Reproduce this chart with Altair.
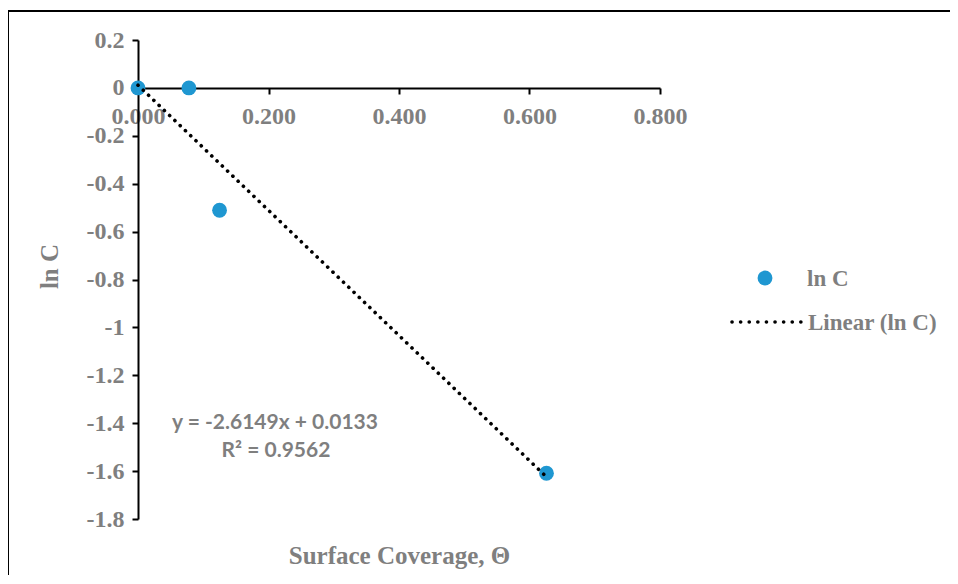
import altair as alt
import pandas as pd

# ---- data ----
theta = [0.0, 0.078, 0.125, 0.626]
ln_c = [0.0, 0.0, -0.511, -1.609]
x_ticks = [0.0, 0.2, 0.4, 0.6, 0.8]
y_ticks = [0.2, 0.0, -0.2, -0.4, -0.6, -0.8, -1.0, -1.2, -1.4, -1.6, -1.8]
legend_labels = ["ln C", "Linear (ln C)"]
equation_lines = ["y = -2.6149x + 0.0133", "R² = 0.9562"]

df = pd.DataFrame({"theta": theta, "lnC": ln_c})

GREY = "#7f7f7f"
BLUE = "#1f97d1"
SERIF = "Liberation Serif"
SANS = "Lato"
DOT = [0.1, 7.2]

W, H = 522, 479

x_scale = alt.Scale(domain=[0, 0.8], nice=False, zero=False)
y_scale = alt.Scale(domain=[-1.8, 0.2], nice=False, zero=False)

x_axis = alt.Axis(
    values=x_ticks, format=".3f", offset=-431, grid=False,
    domainColor="black", domainWidth=2, tickColor="black", tickWidth=2, tickSize=6,
    labelFont=SERIF, labelFontWeight="bold", labelFontSize=24, labelColor=GREY,
    labelPadding=10, labelFlush=False, labelOverlap=False,
    title="Surface Coverage, Θ", titleFont=SERIF, titleFontSize=25,
    titleFontWeight="bold", titleColor=GREY, titleY=467, titleBaseline="middle",
)
y_axis = alt.Axis(
    values=y_ticks, grid=False,
    labelExpr="datum.value == 0 ? '0' : (datum.value < 0 ? '-' : '') + format(abs(datum.value), '.1~f')",
    domainColor="black", domainWidth=2, tickColor="black", tickWidth=2, tickSize=6,
    labelFont=SERIF, labelFontWeight="bold", labelFontSize=24, labelColor=GREY,
    labelPadding=8, labelFlush=False, labelOverlap=False,
    title="ln C", titleFont=SERIF, titleFontSize=25, titleFontWeight="bold",
    titleColor=GREY, titleX=-89, titleY=226, titleBaseline="middle", titleAlign="center",
    titleAngle=270,
)

X = alt.X("theta:Q", scale=x_scale, axis=x_axis)
Y = alt.Y("lnC:Q", scale=y_scale, axis=y_axis)

points = alt.Chart(df).mark_circle(size=220, color=BLUE, opacity=1).encode(x=X, y=Y)

trend = (
    alt.Chart(df)
    .transform_regression("theta", "lnC", method="linear")
    .mark_line(color="black", strokeWidth=3.6, strokeDash=DOT, strokeCap="round")
    .encode(x=X, y=Y)
)

one = pd.DataFrame({"d": [0]})

# chart border (top and left edges visible in the reference)
border_top = alt.Chart(one).mark_rule(color="black", strokeWidth=2).encode(
    x=alt.value(-130), x2=alt.value(900), y=alt.value(-29)
)
border_left = alt.Chart(one).mark_rule(color="black", strokeWidth=2).encode(
    x=alt.value(-130), y=alt.value(-30), y2=alt.value(600)
)

# legend
leg1_df = pd.DataFrame({"label": [legend_labels[0]]})
leg2_df = pd.DataFrame({"label": [legend_labels[1]]})
leg_dot = alt.Chart(leg1_df).mark_circle(size=220, color=BLUE, opacity=1).encode(
    x=alt.value(627), y=alt.value(238)
)
leg_text1 = alt.Chart(leg1_df).mark_text(
    align="left", baseline="middle", font=SERIF, fontWeight="bold", fontSize=23, color=GREY
).encode(x=alt.value(669), y=alt.value(239), text="label:N")
leg_line = alt.Chart(leg2_df).mark_rule(
    color="black", strokeWidth=3.6, strokeDash=[0.1, 8.5], strokeCap="round"
).encode(x=alt.value(594), x2=alt.value(663), y=alt.value(282))
leg_text2 = alt.Chart(leg2_df).mark_text(
    align="left", baseline="middle", font=SERIF, fontWeight="bold", fontSize=23, color=GREY
).encode(x=alt.value(670), y=alt.value(283), text="label:N")

# trendline equation
eq1 = alt.Chart(pd.DataFrame({"t": [equation_lines[0]]})).mark_text(
    align="center", baseline="middle", font=SANS, fontWeight="bold", fontSize=21, color=GREY
).encode(x=alt.value(137), y=alt.value(383), text="t:N")
eq2 = alt.Chart(pd.DataFrame({"t": [equation_lines[1]]})).mark_text(
    align="center", baseline="middle", font=SANS, fontWeight="bold", fontSize=21, color=GREY
).encode(x=alt.value(138), y=alt.value(411), text="t:N")

chart = (
    alt.layer(border_top, border_left, points, trend, leg_dot, leg_text1, leg_line, leg_text2, eq1, eq2)
    .properties(
        width=W, height=H, autosize="none",
        padding={"left": 130, "top": 32, "right": 290, "bottom": 56},
        view=alt.ViewBackground(stroke="transparent", strokeWidth=0),
    )
    .configure_view(stroke="transparent")
    .configure(background="white")
)

chart.save("out.html", embed_options={"renderer": "svg", "actions": False})
